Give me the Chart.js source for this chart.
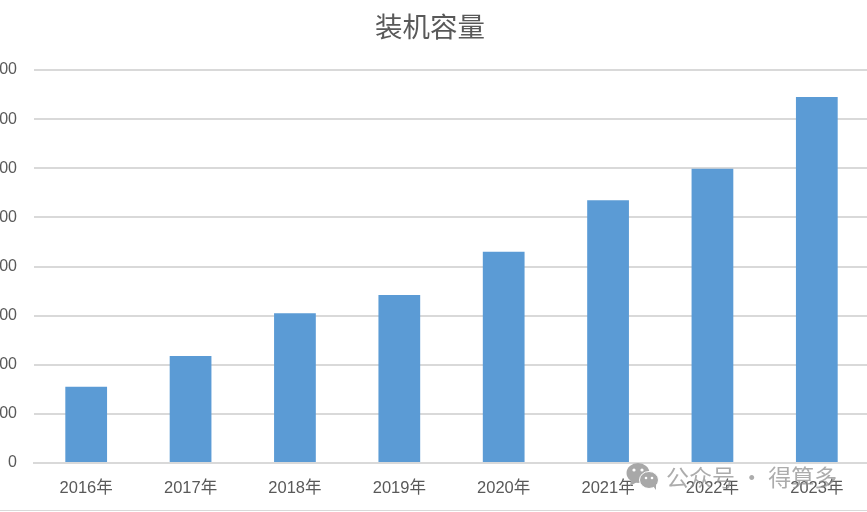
<!DOCTYPE html>
<html lang="zh-CN">
<head>
    <meta charset="UTF-8">
    <title>装机容量</title>
    <script src="https://cdn.jsdelivr.net/npm/chart.js"></script>
    <style>
        html, body { margin: 0; padding: 0; background: #fff; }
        body { position: relative; width: 867px; height: 512px; overflow: hidden; }
        /* the canvas runs past both window edges, the original is a cropped screenshot */
        #box { position: absolute; left: -9px; top: 0; width: 878px; height: 512px; }
        #linha { position: absolute; left: 0; top: 510px; width: 867px; height: 1px; background: #d9d9d9; }
        #marca { position: absolute; left: 626px; top: 461px; height: 30px; display: flex; align-items: center; color: rgba(140,140,140,.72);
            font: 23px "Noto Sans CJK SC"; white-space: nowrap; }
        #marca svg { margin-right: 7px; }
    </style>
</head>
<body>
    <div id="box"><canvas id="myChart"></canvas></div>
    <div id="linha"></div>
    <div id="marca">
        <svg width="33" height="28" viewBox="0 0 33 28">
            <ellipse cx="12" cy="11" rx="11.5" ry="10" fill="#a8a8a8"/>
            <path d="M5 17 L4 24 L11 20 Z" fill="#a8a8a8"/>
            <ellipse cx="23" cy="18" rx="9.5" ry="8.5" fill="#a8a8a8" stroke="#fff" stroke-width="1"/>
            <path d="M27 24 L30 28 L30 22 Z" fill="#a8a8a8"/>
            <circle cx="8" cy="8" r="1.6" fill="#fff"/><circle cx="16" cy="8" r="1.6" fill="#fff"/>
            <circle cx="20" cy="16" r="1.3" fill="#fff"/><circle cx="26" cy="16" r="1.3" fill="#fff"/>
        </svg>
        <span>公众号 · 得算多</span>
    </div>

<script>
    const categorias = ['2016年', '2017年', '2018年', '2019年', '2020年', '2021年', '2022年', '2023年'];
    const capacidade = [155, 218, 305, 342, 430, 535, 599, 745];
    const yMax = 800;
    const yPasso = 100;

    const cinza = '#595959';
    const fonte = '"Liberation Sans", "Noto Sans CJK SC", sans-serif';

    new Chart(document.getElementById('myChart'), {
        type: 'bar',
        data: {
            labels: categorias,
            datasets: [{
                label: '装机容量',
                data: capacidade,
                backgroundColor: '#5b9bd5',
                barPercentage: 0.4,
                categoryPercentage: 1
            }]
        },
        options: {
            responsive: true,
            maintainAspectRatio: false,
            animation: false,
            plugins: {
                legend: { display: false },
                tooltip: { enabled: false },
                title: {
                    display: true,
                    text: '装机容量',
                    color: cinza,
                    font: { family: '"Noto Sans CJK SC", sans-serif', size: 27.5, weight: 'normal' },
                    padding: { top: 10, bottom: 27 }
                }
            },
            scales: {
                x: {
                    grid: { display: false },
                    border: { color: '#d9d9d9', width: 2 },
                    ticks: { color: cinza, font: { family: fonte, size: 16.5 }, padding: 8, maxRotation: 0, autoSkip: false },
                    afterFit: (eixo) => { eixo.height = 49; }
                },
                y: {
                    min: 0,
                    max: yMax,
                    grid: { color: '#d9d9d9', lineWidth: 2, drawTicks: false },
                    border: { display: false },
                    ticks: { stepSize: yPasso, color: cinza, font: { family: fonte, size: 16 }, padding: 17 },
                    afterFit: (eixo) => { eixo.width = 43; }
                }
            }
        }
    });
</script>
</body>
</html>
